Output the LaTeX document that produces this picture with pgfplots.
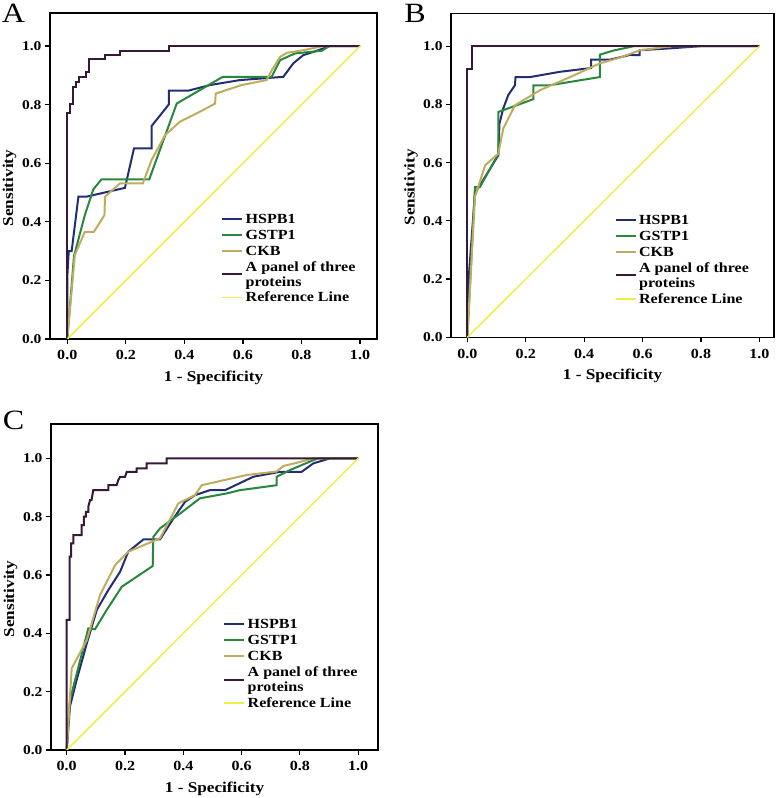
\documentclass[border=0pt]{standalone}
\usepackage{fontspec}
\setmainfont{Liberation Serif}[FakeStretch=1.15]
\usepackage{pgfplots}
\pgfplotsset{compat=1.18}

\definecolor{hspb}{RGB}{35,45,115}
\definecolor{gstp}{RGB}{40,135,60}
\definecolor{ckb}{RGB}{190,172,95}
\definecolor{panel}{RGB}{55,25,55}
\definecolor{refl}{RGB}{240,238,70}

\pgfplotsset{
  roc/.style={
    scale only axis,
    ymin=0,
    axis line style={line width=1.5bp},
    xtick={0,0.2,0.4,0.6,0.8,1}, ytick={0,0.2,0.4,0.6,0.8,1},
    tick align=outside, xtick pos=bottom, ytick pos=left,
    major tick length=5bp, tick style={line width=1.2bp, black},
    /pgf/number format/fixed, /pgf/number format/fixed zerofill,
    /pgf/number format/precision=1, /pgf/number format/assume math mode=true,
    xticklabel style={font=\fontsize{14}{14}\selectfont\bfseries, yshift=-3bp},
    yticklabel style={font=\fontsize{13.5}{13.5}\selectfont\bfseries},
    xlabel={1 - Specificity}, ylabel={Sensitivity},
    label style={font=\fontsize{15}{15}\selectfont\bfseries},
    xlabel style={at={(axis description cs:0.5,-0.12)}, anchor=center},
    ylabel style={at={(axis description cs:-0.124,0.463)}, anchor=center},
    legend style={draw=none, fill=none, inner sep=0pt, row sep=0pt, column sep=1bp,
      font=\fontsize{14}{15}\selectfont\bfseries,
      cells={align=left, anchor=west}, nodes={inner ysep=2bp, inner xsep=1.5bp}},
    legend image code/.code={\draw[#1] (0bp,0bp) -- (20bp,0bp);},
  },
  c1/.style={hspb, line width=2bp},
  c2/.style={gstp, line width=2bp},
  c3/.style={ckb, line width=2bp},
  c4/.style={panel, line width=2bp},
  c5/.style={refl, line width=1.5bp},
}

\begin{document}
\begin{tikzpicture}
\useasboundingbox (0,0) rectangle (778bp,798bp);

% panel A
\begin{axis}[roc, at={(50bp,459bp)}, anchor=south west, width=327bp, height=326bp,
  xmin=-0.059, xmax=1.058, ymax=1.113,
  legend style={at={(axis description cs:0.523,0.394)}, anchor=north west}]
\addplot[c1] coordinates {(0,0)(0,0.21)(0.005,0.30)(0.015,0.30)(0.038,0.486)(0.066,0.486)(0.197,0.516)(0.228,0.651)(0.288,0.651)(0.288,0.727)(0.347,0.801)(0.347,0.848)(0.414,0.848)(0.488,0.867)(0.59,0.884)(0.738,0.895)(0.772,0.941)(0.806,0.969)(0.852,0.984)(0.897,1)(1,1)};
\addplot[c2] coordinates {(0,0)(0.023,0.283)(0.060,0.423)(0.089,0.511)(0.117,0.545)(0.280,0.545)(0.374,0.804)(0.531,0.895)(0.698,0.895)(0.727,0.952)(0.778,0.975)(0.869,0.984)(0.895,1)(1,1)};
\addplot[c3] coordinates {(0,0)(0.026,0.287)(0.060,0.366)(0.091,0.366)(0.127,0.423)(0.129,0.486)(0.18,0.531)(0.258,0.531)(0.288,0.611)(0.334,0.696)(0.385,0.742)(0.465,0.782)(0.505,0.804)(0.507,0.838)(0.596,0.867)(0.681,0.884)(0.70,0.92)(0.727,0.963)(0.75,0.977)(0.806,0.986)(0.875,1)(1,1)};
\addplot[c4] coordinates {(0,0)(0,0.77)(0.01,0.77)(0.01,0.804)(0.02,0.804)(0.02,0.861)(0.03,0.861)(0.03,0.878)(0.04,0.878)(0.04,0.893)(0.063,0.893)(0.063,0.91)(0.075,0.91)(0.075,0.955)(0.129,0.955)(0.129,0.969)(0.18,0.969)(0.18,0.984)(0.349,0.984)(0.349,1)(1,1)};
\addplot[c5] coordinates {(0,0)(1,1)};
\legend{\strut HSPB1, \strut GSTP1, \strut CKB, {\strut A panel of three\\\strut proteins}, \strut Reference Line}
\end{axis}

% panel B
\begin{axis}[roc, at={(451bp,460.7bp)}, anchor=south west, width=323bp, height=324bp,
  xmin=-0.056, xmax=1.050, ymax=1.113,
  legend style={at={(axis description cs:0.506,0.387)}, anchor=north west}]
\addplot[c1] coordinates {(0,0)(0.005,0.21)(0.026,0.494)(0.106,0.625)(0.110,0.734)(0.123,0.786)(0.140,0.832)(0.163,0.866)(0.165,0.894)(0.215,0.894)(0.317,0.912)(0.424,0.925)(0.424,0.954)(0.489,0.954)(0.557,0.970)(0.59,0.969)(0.59,0.986)(0.7,0.993)(0.80,1)(1,1)};
\addplot[c2] coordinates {(0,0)(0.026,0.516)(0.043,0.516)(0.106,0.63)(0.106,0.774)(0.226,0.818)(0.226,0.865)(0.277,0.865)(0.454,0.894)(0.454,0.971)(0.50,0.985)(0.57,1)(1,1)};
\addplot[c3] coordinates {(0,0)(0.026,0.482)(0.061,0.591)(0.106,0.631)(0.123,0.717)(0.163,0.797)(0.249,0.849)(0.352,0.894)(0.454,0.941)(0.52,0.96)(0.591,0.986)(0.70,1)(1,1)};
\addplot[c4] coordinates {(0,0)(0,0.923)(0.015,0.923)(0.015,1)(1,1)};
\addplot[c5] coordinates {(0,0)(1,1)};
\legend{\strut HSPB1, \strut GSTP1, \strut CKB, {\strut A panel of three\\\strut proteins}, \strut Reference Line}
\end{axis}

% panel C
\begin{axis}[roc, at={(51bp,48bp)}, anchor=south west, width=327bp, height=326bp,
  xmin=-0.054, xmax=1.068, ymax=1.118,
  legend style={at={(axis description cs:0.526,0.411)}, anchor=north west}]
\addplot[c1] coordinates {(0,0)(0.011,0.149)(0.034,0.24)(0.069,0.366)(0.103,0.48)(0.143,0.549)(0.183,0.611)(0.211,0.68)(0.263,0.722)(0.32,0.722)(0.366,0.794)(0.406,0.851)(0.44,0.874)(0.491,0.891)(0.543,0.891)(0.64,0.937)(0.731,0.954)(0.806,0.954)(0.846,0.983)(0.903,1)(1,1)};
\addplot[c2] coordinates {(0,0)(0.011,0.171)(0.074,0.417)(0.097,0.414)(0.137,0.48)(0.189,0.56)(0.295,0.631)(0.297,0.731)(0.32,0.760)(0.389,0.811)(0.457,0.863)(0.549,0.88)(0.594,0.891)(0.72,0.908)(0.72,0.937)(0.766,0.96)(0.846,0.994)(0.863,1)(1,1)};
\addplot[c3] coordinates {(0,0)(0.017,0.28)(0.069,0.377)(0.114,0.531)(0.166,0.634)(0.211,0.68)(0.32,0.726)(0.383,0.846)(0.44,0.874)(0.463,0.908)(0.617,0.943)(0.72,0.955)(0.743,0.974)(0.789,0.985)(0.846,1)(1,1)};
\addplot[c4] coordinates {(0,0)(0,0.446)(0.01,0.446)(0.01,0.663)(0.015,0.663)(0.015,0.709)(0.023,0.709)(0.023,0.737)(0.051,0.737)(0.051,0.771)(0.059,0.771)(0.059,0.80)(0.066,0.80)(0.066,0.817)(0.074,0.817)(0.074,0.834)(0.08,0.857)(0.085,0.857)(0.091,0.891)(0.143,0.891)(0.143,0.908)(0.171,0.908)(0.177,0.926)(0.183,0.937)(0.20,0.937)(0.206,0.954)(0.24,0.954)(0.24,0.966)(0.274,0.966)(0.274,0.983)(0.343,0.983)(0.343,1)(1,1)};
\addplot[c5] coordinates {(0,0)(1,1)};
\legend{\strut HSPB1, \strut GSTP1, \strut CKB, {\strut A panel of three\\\strut proteins}, \strut Reference Line}
\end{axis}

\node[font=\fontsize{28}{28}\selectfont] at (13.5bp,785bp) {A};
\node[font=\fontsize{28}{28}\selectfont] at (415bp,785bp) {B};
\node[font=\fontsize{28}{28}\selectfont] at (13.5bp,378bp) {C};
\end{tikzpicture}
\end{document}
